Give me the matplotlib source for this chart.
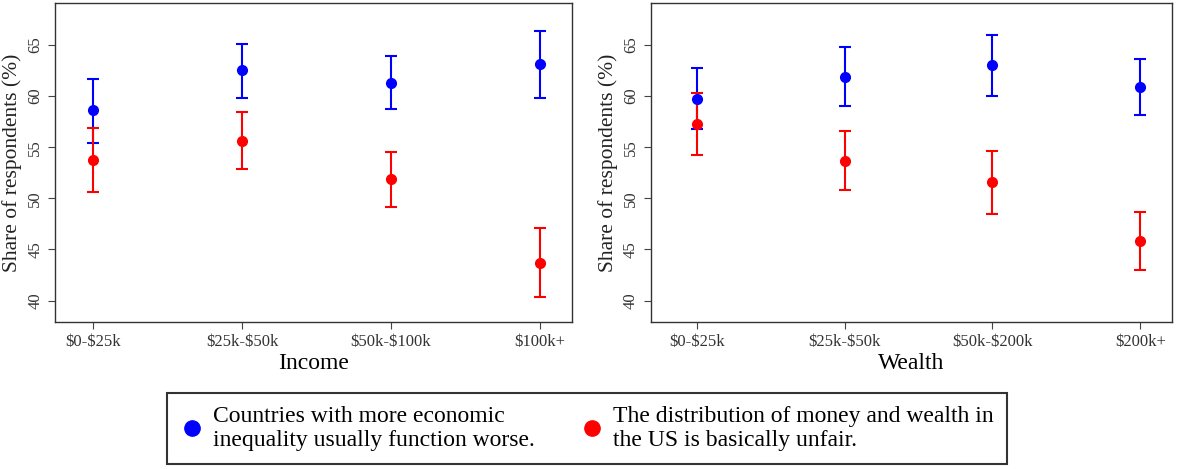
import matplotlib
matplotlib.use("Agg")
import matplotlib.pyplot as plt
from matplotlib.lines import Line2D

plt.rcParams["font.family"] = ["Liberation Serif", "DejaVu Serif"]
plt.rcParams["text.parse_math"] = False

# Income panel
income_labels = ["$0-$25k", "$25k-$50k", "$50k-$100k", "$100k+"]
income_blue = [58.6, 62.5, 61.3, 63.1]
income_blue_lo = [55.45, 59.8, 58.7, 59.8]
income_blue_hi = [61.65, 65.1, 63.9, 66.4]
income_red = [53.7, 55.65, 51.85, 43.7]
income_red_lo = [50.6, 52.9, 49.15, 40.3]
income_red_hi = [56.9, 58.4, 54.55, 47.1]

# Wealth panel
wealth_labels = ["$0-$25k", "$25k-$50k", "$50k-$200k", "$200k+"]
wealth_blue = [59.75, 61.9, 63.0, 60.85]
wealth_blue_lo = [56.75, 59.05, 60.0, 58.1]
wealth_blue_hi = [62.75, 64.75, 65.95, 63.6]
wealth_red = [57.3, 53.65, 51.55, 45.8]
wealth_red_lo = [54.25, 50.8, 48.5, 43.0]
wealth_red_hi = [60.3, 56.6, 54.65, 48.65]

legend_labels = [
    "Countries with more economic\ninequality usually function worse.",
    "The distribution of money and wealth in\nthe US is basically unfair.",
]
yticks = [40, 45, 50, 55, 60, 65]

BLUE = "#0000ff"
RED = "#ff0000"


def draw_panel(ax, labels, series, xlabel, xlim):
    x = list(range(1, len(labels) + 1))
    for vals, lo, hi, color in series:
        err = [[v - l for v, l in zip(vals, lo)], [h - v for v, h in zip(vals, hi)]]
        ax.errorbar(x, vals, yerr=err, fmt="o", color=color, ecolor=color,
                    markersize=7, elinewidth=1.5, capsize=4, capthick=1.5)
    ax.set_xlim(*xlim)
    ax.set_ylim(37.9, 69.1)
    ax.set_xticks(x)
    ax.set_xticklabels(labels, fontsize=12, color="#333333")
    ax.set_yticks(yticks)
    ax.set_yticklabels([str(t) for t in yticks], fontsize=12, rotation=90,
                       va="center", color="#333333")
    ax.tick_params(direction="out", length=5, width=0.8, color="#444444")
    ax.set_ylabel("Share of respondents (%)", fontsize=15.5, color="#222222", labelpad=4)
    ax.set_xlabel(xlabel, fontsize=17, labelpad=2)
    for sp in ax.spines.values():
        sp.set_linewidth(1.0)
        sp.set_color("#333333")


fig = plt.figure(figsize=(11.77, 4.69), dpi=100)
ax1 = fig.add_axes([0.0467, 0.3134, 0.4393, 0.6802])
ax2 = fig.add_axes([0.553, 0.3134, 0.4428, 0.6802])

draw_panel(ax1, income_labels,
           [(income_blue, income_blue_lo, income_blue_hi, BLUE),
            (income_red, income_red_lo, income_red_hi, RED)],
           "Income", (0.745, 4.215))
draw_panel(ax2, wealth_labels,
           [(wealth_blue, wealth_blue_lo, wealth_blue_hi, BLUE),
            (wealth_red, wealth_red_lo, wealth_red_hi, RED)],
           "Wealth", (0.69, 4.215))

handles = [
    Line2D([], [], marker="o", linestyle="none", color=BLUE, markersize=11),
    Line2D([], [], marker="o", linestyle="none", color=RED, markersize=11),
]
leg = fig.legend(handles, legend_labels, loc="center", bbox_to_anchor=(0.4986, 0.087),
                 ncol=2, fontsize=17, frameon=True, fancybox=False, edgecolor="black",
                 handletextpad=0.4, columnspacing=1.9, borderpad=0.55, handlelength=1.0,
                 labelspacing=0.2)
leg.get_frame().set_linewidth(1.5)

fig.savefig("out.png", dpi=100)
